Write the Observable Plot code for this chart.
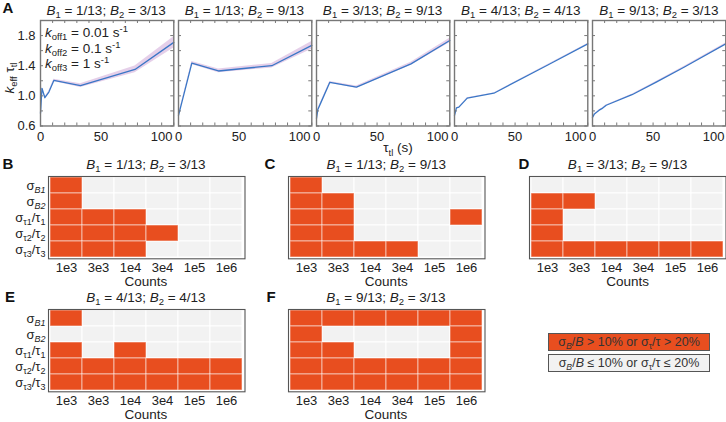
<!DOCTYPE html>
<html><head><meta charset="utf-8">
<script src="https://cdn.jsdelivr.net/npm/d3@7"></script>
<script src="https://cdn.jsdelivr.net/npm/@observablehq/plot@0.6"></script>
<style>
body{margin:0;background:#fff;font-family:"Liberation Sans",Arial,Helvetica,sans-serif;color:#222;}
#fig{position:relative;width:726px;height:422px;overflow:hidden;background:#fff;}
.lbl{position:absolute;white-space:nowrap;line-height:14px;transform:translate(-50%,-50%);}
.left{transform:translate(0,-50%);}
.t{font-size:13.5px;}
.letter{font-size:15px;font-weight:bold;color:#111;}
sub{font-size:70%;vertical-align:-0.32em;line-height:0;}
sup{font-size:70%;vertical-align:0.5em;line-height:0;}
.legbox{position:absolute;box-sizing:border-box;border:1px solid #555;font-size:12.5px;color:#333;text-align:center;white-space:nowrap;}
</style>
</head><body><div id="fig"></div>
<script>
// ---------------- data ----------------
const titlesA = [["1/13","3/13"],["1/13","9/13"],["3/13","9/13"],["4/13","4/13"],["9/13","3/13"]];
const tauA1 = [0, 1.2, 3.6, 6.9, 11, 33, 78, 110];
const kA1   = [0.77, 1.10, 0.975, 1.05, 1.205, 1.135, 1.35, 1.71];
const eA1   = [0.005, 0.01, 0.01, 0.01, 0.015, 0.025, 0.045, 0.075];
const tauA2 = [0, 11, 33, 77, 110];
const kA2   = [0.74, 1.435, 1.33, 1.40, 1.67];
const eA2   = [0.01, 0.02, 0.025, 0.03, 0.05];
const tauA3 = [0, 1.1, 3.6, 11, 33, 78, 110];
const kA3   = [0.70, 0.82, 0.91, 1.18, 1.115, 1.425, 1.735];
const eA3   = [0.005, 0.008, 0.01, 0.012, 0.015, 0.02, 0.03];
const tauA4 = [0, 1.6, 3.6, 10.5, 32.5, 77, 110];
const kA4   = [0.74, 0.84, 0.85, 0.97, 1.035, 1.41, 1.69];
const eA4   = [0.003, 0.003, 0.003, 0.004, 0.004, 0.005, 0.006];
const tauA5 = [0, 1.6, 3.6, 5.5, 7.7, 11.3, 32.6, 53, 75.5, 110];
const kA5   = [0.715, 0.76, 0.785, 0.81, 0.83, 0.875, 1.015, 1.185, 1.38, 1.69];
const eA5   = [0.004, 0.004, 0.004, 0.004, 0.004, 0.005, 0.006, 0.008, 0.01, 0.012];
const xTickLabels = [0, 50, 100];
const xTickMinor = [0,10,20,30,40,50,60,70,80,90,100,110];
const yTickLabels = [0.6, 1.0, 1.4, 1.8];
const yTickMinor = [0.6,0.8,1.0,1.2,1.4,1.6,1.8,2.0];
const koffLabels = [["off1","0.01"],["off2","0.1"],["off3","1"]];

const counts = ["1e3","3e3","1e4","3e4","1e5","1e6"];
const rows = ["sB1","sB2","st1","st2","st3"];
const gridB = [[1,0,0,0,0,0],[1,0,0,0,0,0],[1,1,1,0,0,0],[1,1,1,1,0,0],[1,1,1,0,0,0]];
const gridC = [[1,0,0,0,0,0],[1,1,0,0,0,0],[1,1,0,0,0,1],[1,1,0,0,0,0],[1,1,1,1,0,0]];
const gridD = [[0,0,0,0,0,0],[1,1,0,0,0,0],[1,0,0,0,0,0],[1,0,0,0,0,0],[1,1,1,1,1,1]];
const gridE = [[1,0,0,0,0,0],[0,0,0,0,0,0],[1,0,1,0,0,0],[1,1,1,1,1,1],[1,1,1,1,1,1]];
const gridF = [[1,1,1,1,1,1],[1,0,0,0,0,1],[1,1,0,0,0,1],[1,1,1,1,1,1],[1,1,1,1,1,1]];
const titlesHeat = [["1/13","3/13"],["1/13","9/13"],["3/13","9/13"],["4/13","4/13"],["9/13","3/13"]];

// ---------------- helpers ----------------
const FONT = '"Liberation Sans", Arial, Helvetica, sans-serif';
const ORANGE = "#e84e1f", GREY = "#f2f2f2";
const fig = document.getElementById("fig");
function place(el, left, top){ el.style.position="absolute"; el.style.left=left+"px"; el.style.top=top+"px"; fig.appendChild(el); }
function label(html, x, y, cls){ const d=document.createElement("div"); d.className="lbl "+(cls||"t"); d.innerHTML=html; d.style.left=x+"px"; d.style.top=y+"px"; fig.appendChild(d); return d; }
function bTitle(p){ return `<i>B</i><sub>1</sub> = ${p[0]}; <i>B</i><sub>2</sub> = ${p[1]}`; }

// ---------------- panel A ----------------
const series = [[tauA1,kA1,eA1],[tauA2,kA2,eA2],[tauA3,kA3,eA3],[tauA4,kA4,eA4],[tauA5,kA5,eA5]];
const AY = 20, AW = 133.3, AH = 105.5;
series.forEach(([tau,k,e], i) => {
  const fx = 39.5 + i*138.2;
  const ml = 32, mr = 3, mt = 3, mb = 24;
  const data = tau.map((t,j)=>({t, k:k[j], lo:k[j]-e[j], hi:k[j]+e[j]}));
  const marks = [
    Plot.areaY(data, {x:"t", y1:"lo", y2:"hi", fill:"#cc9fd4", fillOpacity:0.5}),
    Plot.lineY(data, {x:"t", y:"k", stroke:"#3a76c6", strokeWidth:1.3}),
    Plot.ruleX(xTickMinor, {insetTop: AH-3, stroke:"#777"}),
    Plot.ruleX(xTickMinor, {insetBottom: AH-3, stroke:"#777"}),
    Plot.ruleY(yTickMinor, {insetRight: AW-3, stroke:"#777"}),
    Plot.ruleY(yTickMinor, {insetLeft: AW-3, stroke:"#777"}),
    Plot.frame({stroke:"#777", strokeWidth:1.4}),
    Plot.axisX(xTickLabels, {tickSize:0, tickPadding:6, label:null})
  ];
  if (i===0) marks.push(Plot.axisY(yTickLabels, {tickSize:0, tickPadding:5, tickFormat:d3.format(".1f"), label:null}));
  const p = Plot.plot({
    width: AW+ml+mr, height: AH+mt+mb,
    marginLeft: ml, marginRight: mr, marginTop: mt, marginBottom: mb,
    style: {fontFamily: FONT, fontSize:"13px", color:"#222", background:"transparent", overflow:"visible"},
    x: {domain:[0,110]},
    y: {domain:[0.6,2.0], axis: i===0 ? undefined : null},
    marks
  });
  place(p, fx-ml, AY-mt);
  label(bTitle(titlesA[i]), fx+AW/2, 11);
});
label("A", 8, 8, "letter");
label(`<i>k</i><sub>eff</sub> τ<sub>tl</sub>`, 10, 78).style.transform = "translate(-50%,-50%) rotate(-90deg)";
label(`τ<sub>tl</sub> (s)`, 398, 147.5).style.lineHeight = "9px";
koffLabels.forEach((d,j)=>{ label(`<i>k</i><sub>${d[0]}</sub> = ${d[1]} s<sup>-1</sup>`, 45, 33+j*15.5, "t left"); });

// ---------------- heatmaps ----------------
const rowSpec = {
  sB1: [["σ",0],["B1","subi"]],
  sB2: [["σ",0],["B2","subi"]],
  st1: [["σ",0],["τ1","sub"],["/τ",0],["1","sub"]],
  st2: [["σ",0],["τ2","sub"],["/τ",0],["2","sub"]],
  st3: [["σ",0],["τ3","sub"],["/τ",0],["3","sub"]]
};
const HW = 196.5, HH = 82.3;
function heat(fx, fy, grid, showRows, title, letter, lx){
  const ml = 50, mr = 2, mt = 2, mb = 22;
  const data = [];
  rows.forEach((r,ri)=>counts.forEach((c,ci)=>data.push({r, c, v:grid[ri][ci]})));
  const marks = [
    Plot.cell(data, {x:"c", y:"r", fill:GREY, stroke:"#ffffff", strokeWidth:1}),
    Plot.cell(data, {filter:d=>d.v===1, x:"c", y:"r", fill:ORANGE, stroke:"#ffffff", strokeOpacity:0.55, strokeWidth:1}),
    Plot.frame({stroke:"#555", strokeWidth:1.1}),
    Plot.axisX({tickSize:0, tickPadding:4, label:null})
  ];
  if (showRows) marks.push(Plot.axisY({tickSize:0, tickPadding:3, label:null}));
  const p = Plot.plot({
    width: HW+ml+mr, height: HH+mt+mb,
    marginLeft: ml, marginRight: mr, marginTop: mt, marginBottom: mb,
    style: {fontFamily: FONT, fontSize:"13px", color:"#222", background:"transparent", overflow:"visible"},
    x: {type:"band", domain:counts, padding:0},
    y: {type:"band", domain:rows, padding:0, axis: showRows ? undefined : null},
    marks
  });
  if (showRows) {
    p.querySelectorAll('g[aria-label="y-axis tick label"] text').forEach(t => {
      const key = t.textContent.trim();
      const spec = rowSpec[key]; if (!spec) return;
      while (t.firstChild) t.removeChild(t.firstChild);
      let down = false;
      spec.forEach(([s, kind]) => {
        const ts = document.createElementNS("http://www.w3.org/2000/svg","tspan");
        ts.textContent = s;
        if (kind) { ts.setAttribute("font-size","9"); if (!down) ts.setAttribute("dy","3"); down = true; if (kind==="subi") ts.setAttribute("font-style","italic"); }
        else { if (down) ts.setAttribute("dy","-3"); down = false; }
        t.appendChild(ts);
      });
    });
  }
  place(p, fx-ml, fy-mt);
  label(bTitle(title), fx+HW/2, fy-12).style.lineHeight = "11px";
  label(letter, lx, fy-12, "letter");
  label("Counts", fx+HW/2, fy+HH+23.5);
}
heat(47.7, 176, gridB, true, titlesHeat[0], "B", 8);
heat(288, 176, gridC, false, titlesHeat[1], "C", 270);
heat(529.3, 176, gridD, false, titlesHeat[2], "D", 524);
heat(47.7, 309, gridE, true, titlesHeat[3], "E", 10);
heat(287.7, 309, gridF, false, titlesHeat[4], "F", 271);

// ---------------- legend ----------------
const legendItems = [
  {fill: ORANGE, html: `σ<sub><i>B</i></sub>/<i>B</i> &gt; 10% or σ<sub>τ</sub>/τ &gt; 20%`},
  {fill: GREY,   html: `σ<sub><i>B</i></sub>/<i>B</i> ≤ 10% or σ<sub>τ</sub>/τ ≤ 20%`}
];
legendItems.forEach((it, j) => {
  const d = document.createElement("div");
  d.className = "legbox";
  d.style.left = "548px"; d.style.top = (333 + j*21) + "px";
  d.style.width = "162px"; d.style.height = "18px"; d.style.lineHeight = "16px";
  d.style.background = it.fill;
  d.innerHTML = it.html;
  fig.appendChild(d);
});
</script>
</body></html>
